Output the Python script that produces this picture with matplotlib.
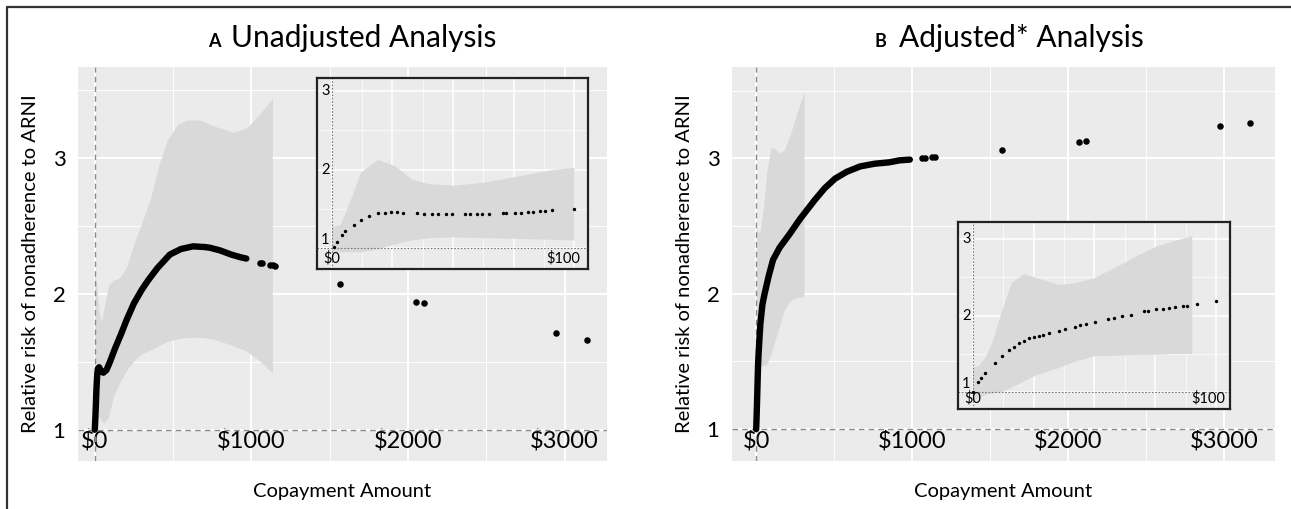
import matplotlib
matplotlib.use('Agg')
import matplotlib.pyplot as plt
import matplotlib.transforms as mtransforms
from matplotlib.lines import Line2D

plt.rcParams['font.family'] = ['Lato', 'DejaVu Sans']

# ---- Panel A: unadjusted, fitted relative risk per copayment ----
a_curve_x = [0, 2, 4, 6, 8, 10, 13, 16, 20, 28, 40, 55, 75, 97, 130, 170, 204, 250, 300,
             341, 400, 480, 550, 628, 700, 734, 800, 870, 930, 968]
a_curve_y = [1.00, 1.04, 1.09, 1.15, 1.21, 1.28, 1.35, 1.41, 1.45, 1.46, 1.43, 1.42, 1.44,
             1.50, 1.60, 1.71, 1.81, 1.93, 2.03, 2.10, 2.19, 2.29, 2.33, 2.35, 2.345, 2.34,
             2.32, 2.29, 2.27, 2.26]
a_sparse_x = [1053, 1065, 1120, 1138, 1150, 1568, 2049, 2101, 2948, 3143]
a_sparse_y = [2.23, 2.225, 2.215, 2.21, 2.205, 2.07, 1.94, 1.93, 1.71, 1.66]

a_band_x = [0, 15, 30, 44, 60, 87, 120, 160, 204, 260, 300, 360, 410, 463, 530, 593, 670,
            750, 880, 968, 1050, 1134]
a_band_hi = [2.15, 2.05, 1.85, 1.80, 1.90, 2.06, 2.10, 2.12, 2.20, 2.40, 2.52, 2.72, 2.95,
             3.13, 3.25, 3.28, 3.28, 3.24, 3.19, 3.22, 3.32, 3.44]
a_band_lo = [1.25, 1.15, 1.09, 1.06, 1.05, 1.09, 1.25, 1.35, 1.44, 1.52, 1.56, 1.59, 1.62,
             1.65, 1.67, 1.68, 1.68, 1.67, 1.62, 1.58, 1.51, 1.42]

# inset A ($0 - $100)
ai_x = [0.8, 2.2, 4.3, 5.7, 9.2, 12, 15.5, 19, 22, 24.6, 27, 29.5, 35, 38, 41.3, 44, 47,
        49.7, 55, 57, 60, 62, 64.9, 70.5, 72, 75.4, 78, 81, 83, 85.9, 88, 90.8, 99.9]
ai_y = [1.01, 1.07, 1.16, 1.22, 1.29, 1.36, 1.41, 1.44, 1.45, 1.46, 1.46, 1.45, 1.44, 1.43,
        1.43, 1.43, 1.43, 1.43, 1.43, 1.43, 1.43, 1.43, 1.43, 1.44, 1.44, 1.45, 1.45, 1.46,
        1.46, 1.47, 1.47, 1.48, 1.50]
ai_band_x = [0, 3.6, 7.8, 12, 19, 26, 33, 40, 50, 63, 77, 90.6, 99.8]
ai_band_hi = [1.27, 1.30, 1.62, 1.97, 2.13, 2.05, 1.88, 1.82, 1.80, 1.84, 1.92, 2.00, 2.03]
ai_band_lo = [0.96, 0.95, 0.95, 0.95, 0.99, 1.05, 1.10, 1.13, 1.14, 1.13, 1.12, 1.11, 1.10]

# ---- Panel B: adjusted ----
b_curve_x = [0, 3, 6, 9, 12, 15, 20, 27, 40, 54, 80, 108, 150, 214, 280, 374, 440, 506, 580,
             667, 760, 852, 920, 985]
b_curve_y = [1.00, 1.10, 1.22, 1.35, 1.47, 1.55, 1.65, 1.78, 1.92, 2.00, 2.13, 2.25, 2.34,
             2.44, 2.55, 2.69, 2.78, 2.85, 2.90, 2.94, 2.96, 2.97, 2.985, 2.99]
b_sparse_x = [1064, 1085, 1124, 1145, 1578, 2068, 2115, 2972, 3167]
b_sparse_y = [3.00, 3.00, 3.01, 3.01, 3.06, 3.12, 3.13, 3.24, 3.26]

b_band_x = [0, 10, 24, 45, 68, 94, 120, 147, 180, 220, 260, 307]
b_band_hi = [2.49, 2.46, 2.45, 2.62, 2.90, 3.08, 3.07, 3.04, 3.06, 3.18, 3.33, 3.49]
b_band_lo = [1.30, 1.38, 1.46, 1.47, 1.48, 1.55, 1.65, 1.75, 1.88, 1.95, 1.97, 1.98]

# inset B
bi_x = [0.3, 2.3, 3.5, 5.1, 9.3, 12, 14.8, 17, 19, 21, 23, 25, 27.3, 29, 31.4, 35.6, 38,
        41.8, 44, 46.7, 50.1, 55.7, 58, 61.2, 65.1, 70.2, 72, 75.1, 78, 80.6, 83, 86.2, 88,
        92.1, 100]
bi_y = [1.00, 1.12, 1.18, 1.25, 1.38, 1.47, 1.54, 1.59, 1.64, 1.67, 1.70, 1.72, 1.73, 1.75,
        1.77, 1.80, 1.82, 1.85, 1.87, 1.89, 1.92, 1.96, 1.97, 1.99, 2.01, 2.06, 2.06, 2.08,
        2.09, 2.10, 2.11, 2.12, 2.13, 2.15, 2.19]
bi_band_x = [0, 2.3, 5, 7.7, 12, 16, 21, 26, 35.6, 41.8, 50, 61, 68, 75, 82, 89.9]
bi_band_hi = [1.32, 1.34, 1.45, 1.63, 2.08, 2.44, 2.55, 2.50, 2.41, 2.43, 2.50, 2.68, 2.80,
              2.91, 2.98, 3.05]
bi_band_lo = [0.87, 0.92, 0.96, 0.98, 1.00, 1.06, 1.14, 1.22, 1.32, 1.40, 1.47, 1.48, 1.49,
              1.49, 1.50, 1.50]

main_xticks = [0, 1000, 2000, 3000]
main_xlabels = ['$0', '$1000', '$2000', '$3000']
main_yticks = [1, 2, 3]

W, H = 1291, 509
BG = '#EBEBEB'
BAND = '#D9D9D9'


def px_rect(l, t, r, b):
    return [l / W, 1 - b / H, (r - l) / W, (b - t) / H]


def draw_main(ax, xlim, ylim, cx, cy, sx, sy, bx, blo, bhi):
    ax.set_facecolor(BG)
    for s in ax.spines.values():
        s.set_visible(False)
    ax.set_xlim(*xlim)
    ax.set_ylim(*ylim)
    ax.set_xticks(main_xticks)
    ax.set_xticklabels(main_xlabels)
    ax.set_xticks([500, 1500, 2500], minor=True)
    ax.set_yticks(main_yticks)
    ax.set_yticks([1.5, 2.5, 3.5], minor=True)
    ax.grid(which='major', color='white', lw=1.4)
    ax.grid(which='minor', color='white', lw=0.7)
    ax.set_axisbelow(True)
    ax.tick_params(axis='x', which='both', length=0, labelsize=17, pad=-22)
    ax.tick_params(axis='y', which='both', length=0, labelsize=16, pad=9)
    ax.fill_between(bx, blo, bhi, color=BAND, lw=0, zorder=1)
    ax.axvline(0, color='#8a8a8a', lw=1, ls=(0, (4, 3)), zorder=2)
    ax.axhline(1, color='#8a8a8a', lw=1, ls=(0, (4, 3)), zorder=2)
    ax.plot(cx, cy, color='black', lw=4.6, solid_capstyle='round', zorder=3)
    ax.scatter(sx, sy, s=22, color='black', lw=0, zorder=3)
    ax.set_xlabel('Copayment Amount', fontsize=14.5, labelpad=16)
    ax.set_ylabel('Relative risk of nonadherence to ARNI', fontsize=14.5, labelpad=10)


def draw_inset(ax, ylim, px, py, bx, blo, bhi, lab100):
    ax.set_facecolor(BG)
    for s in ax.spines.values():
        s.set_color('#222222')
        s.set_linewidth(1.6)
    ax.set_xlim(-6, 105.6)
    ax.set_ylim(*ylim)
    ax.set_xticks([0, 25, 50, 75, 100])
    ax.set_xticks([12.5, 37.5, 62.5, 87.5], minor=True)
    ax.set_yticks([1, 2, 3])
    ax.set_yticks([1.5, 2.5], minor=True)
    ax.set_xticklabels([])
    ax.set_yticklabels([])
    ax.tick_params(which='both', length=0)
    ax.grid(which='major', color='white', lw=1.1)
    ax.grid(which='minor', color='white', lw=0.5)
    ax.set_axisbelow(True)
    ax.fill_between(bx, blo, bhi, color=BAND, lw=0, zorder=1)
    ax.axvline(0, color='#777777', lw=0.8, ls=(0, (1.5, 1.5)), zorder=2)
    ax.axhline(1, color='#777777', lw=0.8, ls=(0, (1.5, 1.5)), zorder=2)
    ax.scatter(px, py, s=6, color='black', lw=0, zorder=3)
    ty = mtransforms.blended_transform_factory(ax.transAxes, ax.transData)
    for v, lab in [(1.1, '1'), (2, '2'), (3, '3')]:
        ax.text(0.015, v, lab, transform=ty, ha='left', va='center', fontsize=10.5)
    tx = mtransforms.blended_transform_factory(ax.transData, ax.transAxes)
    ax.text(0, 0.02, '$0', transform=tx, ha='center', va='bottom', fontsize=10.5)
    ax.text(lab100, 0.02, '$100', transform=tx, ha='right', va='bottom', fontsize=10.5)


fig = plt.figure(figsize=(W / 100, H / 100), dpi=100)

ax_a = fig.add_axes(px_rect(78, 67, 607, 461))
draw_main(ax_a, (-107, 3271), (0.77, 3.67), a_curve_x, a_curve_y, a_sparse_x, a_sparse_y,
          a_band_x, a_band_lo, a_band_hi)

ax_b = fig.add_axes(px_rect(732, 67, 1275, 461))
draw_main(ax_b, (-155, 3326), (0.765, 3.674), b_curve_x, b_curve_y, b_sparse_x, b_sparse_y,
          b_band_x, b_band_lo, b_band_hi)

in_a = fig.add_axes(px_rect(317, 78, 588, 269))
draw_inset(in_a, (0.73, 3.17), ai_x, ai_y, ai_band_x, ai_band_lo, ai_band_hi, 102.5)

in_b = fig.add_axes(px_rect(958, 222, 1230, 409))
draw_inset(in_b, (0.77, 3.23), bi_x, bi_y, bi_band_x, bi_band_lo, bi_band_hi, 103.5)

# titles with small bold panel letters
fig.text(208 / W, 1 - 47 / H, 'A', fontsize=13, fontweight='bold', va='baseline')
fig.text(231 / W, 1 - 47 / H, 'Unadjusted Analysis', fontsize=21.5, va='baseline')
fig.text(874 / W, 1 - 47 / H, 'B', fontsize=13, fontweight='bold', va='baseline')
fig.text(899 / W, 1 - 47 / H, 'Adjusted* Analysis', fontsize=21.5, va='baseline')

# outer frame (left and top visible)
fig.add_artist(Line2D([7 / W, 7 / W, 1], [0, 1 - 7 / H, 1 - 7 / H],
                      transform=fig.transFigure, color='#333333', lw=1.6))

fig.savefig('out.png', dpi=100)
